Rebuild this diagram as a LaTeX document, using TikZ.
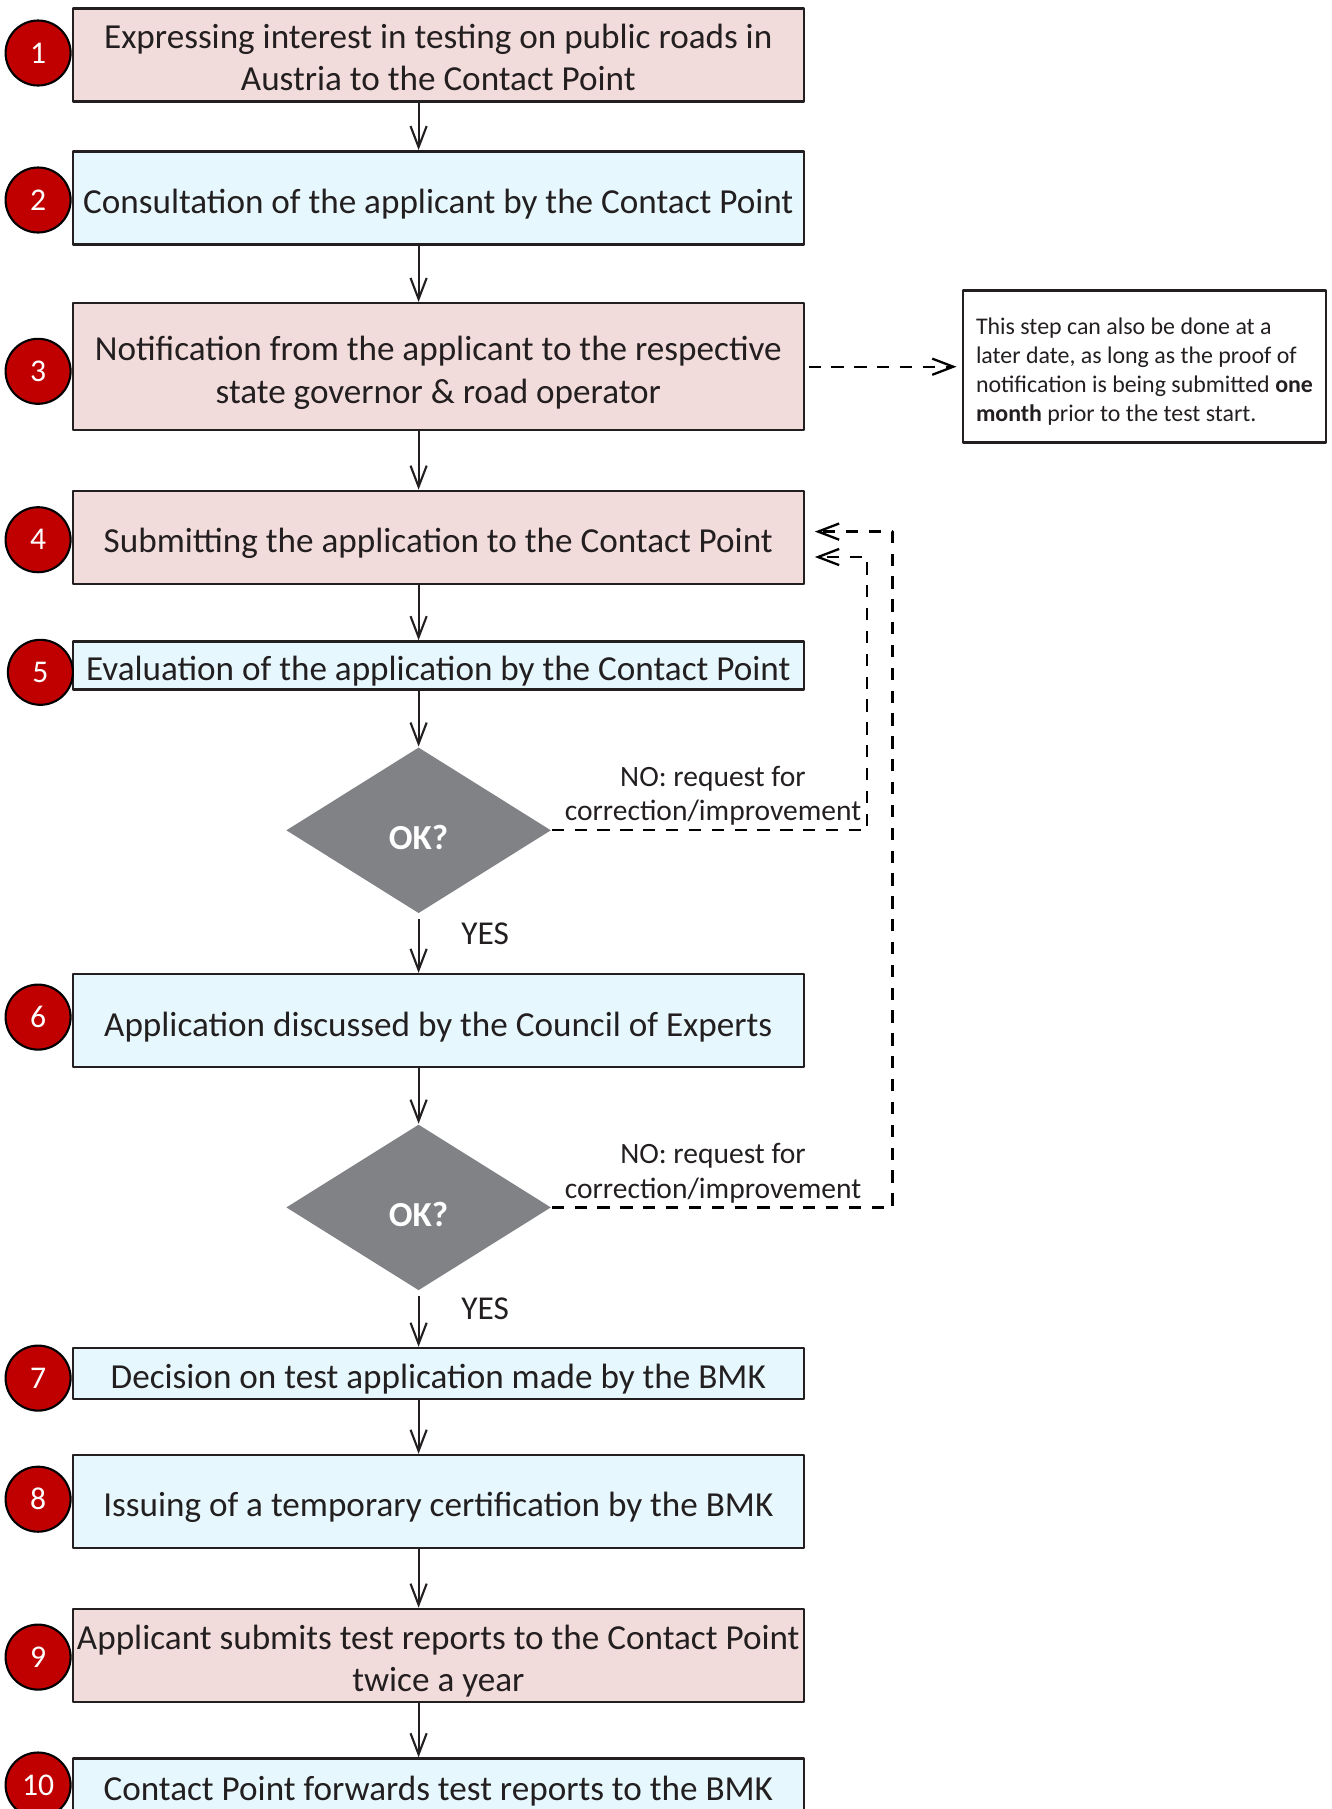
\documentclass[tikz,border=0pt]{standalone}
\usepackage{fontspec}
\setmainfont{Carlito}
\usetikzlibrary{arrows.meta,shapes.geometric,positioning}
\definecolor{boxpink}{HTML}{F2DCDB}
\definecolor{boxblue}{HTML}{E6F8FD}
\definecolor{stepred}{HTML}{C00000}
\definecolor{okgray}{HTML}{808285}
\definecolor{ink}{HTML}{231F20}
\newcommand{\boxstrut}[1][10.4pt]{\rule{0pt}{#1}}
\begin{document}
\begin{tikzpicture}[font=\fontsize{10}{12}\selectfont, line join=round, >={Straight Barb[length=6pt,width=4.6pt]},
	stepbox/.style={draw=ink, line width=0.7pt, minimum width=7.31cm, minimum height=0.93cm, align=center, inner xsep=0.5pt, inner ysep=0pt, text=ink, execute at begin node={\boxstrut}},
	pinkbox/.style={stepbox, fill=boxpink},
	bluebox/.style={stepbox, fill=boxblue},
	num/.style={circle, draw=black, line width=0.6pt, fill=stepred, minimum size=0.65cm, inner sep=0pt, text=white, font=\fontsize{9}{10}\selectfont},
	ok/.style={diamond, aspect=1.6, fill=okgray, minimum width=2.65cm, minimum height=1.66cm, inner sep=0pt, text=white, text height=11pt, text depth=0pt, font=\bfseries\fontsize{10}{12}\selectfont},
	notebox/.style={draw=ink, line width=0.7pt, fill=white, minimum width=3.63cm, minimum height=1.52cm, align=left, text=ink, font=\fontsize{6.8}{8.2}\selectfont},
	flow/.style={->, draw=ink, line width=0.6pt},
	back/.style={->, draw=black, line width=0.65pt, dash pattern=on 3.5pt off 3pt},
	nolabel/.style={font=\fontsize{8.4}{9.8}\selectfont, align=center, text=ink, inner sep=1pt},
	yes/.style={font=\fontsize{9.5}{11}\selectfont, text=ink}]
	\clip (0,0) rectangle (13.32,-18.09);
	\path
	(4.186,0) coordinate (ax)
	(8.672,-5.570) coordinate (r1)
	(8.926,-5.316) coordinate (r2)
	;
	\node[pinkbox] (s1) at (4.383,-0.548) {\boxstrut[8.6pt]Expressing interest in testing on public roads in\\Austria to the Contact Point};
	\node[bluebox] (s2) at (4.383,-1.978) {Consultation of the applicant by the Contact Point};
	\node[pinkbox, minimum height=1.27cm] (s3) at (4.383,-3.667) {\boxstrut Notification from the applicant to the respective\\state governor \& road operator};
	\node[pinkbox] (s4) at (4.383,-5.374) {Submitting the application to the Contact Point};
	\node[bluebox, minimum height=0.48cm] (s5) at (4.383,-6.654) {Evaluation of the application by the Contact Point};
	\node[ok] (ok1) at (4.186,-8.303) {OK?};
	\node[bluebox] (s6) at (4.383,-10.206) {Application discussed by the Council of Experts};
	\node[ok] (ok2) at (4.186,-12.074) {OK?};
	\node[bluebox, minimum height=0.51cm] (s7) at (4.383,-13.735) {Decision on test application made by the BMK};
	\node[bluebox] (s8) at (4.383,-15.015) {Issuing of a temporary certification by the BMK};
	\node[pinkbox] (s9) at (4.383,-16.554) {\boxstrut Applicant submits test reports to the Contact Point\\twice a year};
	\node[bluebox, minimum height=0.53cm] (s10) at (4.383,-17.85) {Contact Point forwards test reports to the BMK};
	\node[notebox] (note) at (11.445,-3.667) {\boxstrut[7.6pt]This step can also be done at a\\later date, as long as the proof of\\notification is being submitted \textbf{one}\\\textbf{month} prior to the test start.};
	\foreach \i/\x/\y in {1/0.381/-0.53, 2/0.381/-2.0, 3/0.381/-3.713, 4/0.381/-5.397, 5/0.404/-6.723, 6/0.381/-10.171, 7/0.381/-13.781, 8/0.381/-14.992, 9/0.381/-16.571, 10/0.381/-17.85}
	\node[num] (c\i) at (\x,\y) {\i};
	\foreach \a/\b in {s1/s2, s2/s3, s3/s4, s4/s5, s5/ok1, s6/ok2, s7/s8, s8/s9, s9/s10}
	\draw[flow] (\a.south -| ax) -- (\b.north -| ax);
	\draw[flow, shorten <=1.5pt] (ok1.south) -- node[yes, right=0.3cm, pos=0.34] (yes1) {YES} (s6.north -| ax);
	\draw[flow, shorten <=1.5pt] (ok2.south) -- node[yes, right=0.3cm, pos=0.32] (yes2) {YES} (s7.north -| ax);
	\draw[back, shorten <=1pt, shorten >=1.5pt] (s3.east) -- (note.west);
	\draw[back, shorten >=2.8pt] (ok1.east) -- node[nolabel, above, pos=0.511] (no1) {NO: request for\\correction/improvement} (ok1.east -| r1) -- (r1) -- (r1 -| s4.east);
	\draw[back, shorten >=2.8pt] (ok2.east) -- node[nolabel, above, pos=0.473] (no2) {NO: request for\\correction/improvement} (ok2.east -| r2) -- (r2) -- (r2 -| s4.east);
\end{tikzpicture}
\end{document}
